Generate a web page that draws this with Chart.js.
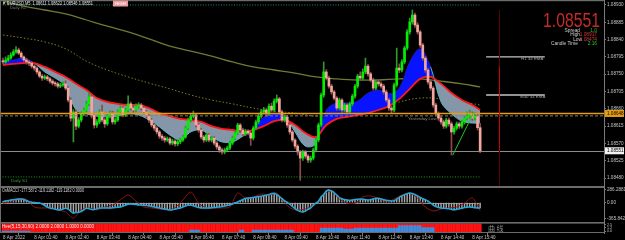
<!DOCTYPE html>
<html><head><meta charset="utf-8">
<script src="https://cdn.jsdelivr.net/npm/chart.js@4.4.1/dist/chart.umd.min.js"></script>
<style>html,body{margin:0;padding:0;background:#000;overflow:hidden}canvas{display:block}</style>
</head><body>
<canvas id="c" width="625" height="240"></canvas>
<script>
// ---------------- DATA ----------------
const symbolTitle = '\u25BC EURUSD,M5  1.08611 1.08622 1.08546 1.08551';
const closes = [1.08782,1.08787,1.08792,1.08800,1.08808,1.08813,1.08805,1.08795,1.08787,1.08782,1.08779,1.08771,
1.08766,1.08756,1.08745,1.08740,1.08743,1.08738,1.08732,1.08727,1.08725,1.08719,1.08722,1.08725,
1.08714,1.08683,1.08636,1.08652,1.08615,1.08631,1.08647,1.08657,1.08673,1.08691,1.08644,1.08618,
1.08626,1.08652,1.08631,1.08621,1.08641,1.08649,1.08626,1.08631,1.08652,1.08662,1.08644,1.08657,
1.08673,1.08662,1.08657,1.08667,1.08670,1.08662,1.08652,1.08641,1.08631,1.08618,1.08610,1.08600,
1.08589,1.08584,1.08579,1.08582,1.08571,1.08576,1.08569,1.08574,1.08579,1.08587,1.08610,1.08631,
1.08641,1.08644,1.08618,1.08605,1.08587,1.08579,1.08592,1.08579,1.08584,1.08571,1.08561,1.08553,
1.08548,1.08553,1.08558,1.08571,1.08584,1.08597,1.08618,1.08605,1.08595,1.08602,1.08597,1.08584,
1.08610,1.08626,1.08641,1.08652,1.08657,1.08647,1.08667,1.08657,1.08680,1.08686,1.08652,1.08631,
1.08639,1.08618,1.08600,1.08579,1.08563,1.08548,1.08532,1.08548,1.08537,1.08527,1.08532,1.08553,
1.08579,1.08618,1.08696,1.08756,1.08740,1.08719,1.08704,1.08688,1.08662,1.08683,1.08657,1.08670,
1.08652,1.08673,1.08693,1.08719,1.08745,1.08740,1.08756,1.08771,1.08751,1.08735,1.08714,1.08730,
1.08725,1.08719,1.08704,1.08683,1.08662,1.08657,1.08722,1.08766,1.08761,1.08782,1.08818,1.08860,
1.08886,1.08904,1.08878,1.08860,1.08826,1.08792,1.08761,1.08730,1.08714,1.08670,1.08647,1.08636,
1.08626,1.08615,1.08631,1.08621,1.08600,1.08610,1.08621,1.08615,1.08626,1.08636,1.08641,1.08647,
1.08636,1.08641,1.08611,1.08551];
const opens = [1.08785,1.08782,1.08787,1.08792,1.08800,1.08808,1.08813,1.08805,1.08795,1.08787,1.08782,1.08779,
1.08771,1.08766,1.08756,1.08745,1.08740,1.08743,1.08738,1.08732,1.08727,1.08725,1.08719,1.08722,
1.08725,1.08714,1.08683,1.08636,1.08652,1.08615,1.08631,1.08647,1.08657,1.08673,1.08691,1.08644,
1.08618,1.08626,1.08652,1.08631,1.08621,1.08641,1.08649,1.08626,1.08631,1.08652,1.08662,1.08644,
1.08657,1.08673,1.08662,1.08657,1.08667,1.08670,1.08662,1.08652,1.08641,1.08631,1.08618,1.08610,
1.08600,1.08589,1.08584,1.08579,1.08582,1.08571,1.08576,1.08569,1.08574,1.08579,1.08587,1.08610,
1.08631,1.08641,1.08644,1.08618,1.08605,1.08587,1.08579,1.08592,1.08579,1.08584,1.08571,1.08561,
1.08553,1.08548,1.08553,1.08558,1.08571,1.08584,1.08597,1.08618,1.08605,1.08595,1.08602,1.08597,
1.08584,1.08610,1.08626,1.08641,1.08652,1.08657,1.08647,1.08667,1.08657,1.08680,1.08686,1.08652,
1.08631,1.08639,1.08618,1.08600,1.08579,1.08563,1.08548,1.08532,1.08548,1.08537,1.08527,1.08532,
1.08553,1.08579,1.08618,1.08696,1.08756,1.08740,1.08719,1.08704,1.08688,1.08662,1.08683,1.08657,
1.08670,1.08652,1.08673,1.08693,1.08719,1.08745,1.08740,1.08756,1.08771,1.08751,1.08735,1.08714,
1.08730,1.08725,1.08719,1.08704,1.08683,1.08662,1.08657,1.08722,1.08766,1.08761,1.08782,1.08818,
1.08860,1.08886,1.08904,1.08878,1.08860,1.08826,1.08792,1.08761,1.08730,1.08714,1.08670,1.08647,
1.08636,1.08626,1.08615,1.08631,1.08621,1.08600,1.08610,1.08621,1.08615,1.08626,1.08636,1.08641,
1.08647,1.08636,1.08641,1.08611];
const highs = [1.08792,1.08795,1.08799,1.08806,1.08814,1.08822,1.08818,1.08809,1.08798,1.08792,1.08786,1.08783,
1.08775,1.08769,1.08759,1.08750,1.08748,1.08747,1.08742,1.08736,1.08731,1.08729,1.08727,1.08730,
1.08733,1.08718,1.08688,1.08658,1.08657,1.08637,1.08652,1.08662,1.08680,1.08701,1.08696,1.08649,
1.08632,1.08658,1.08670,1.08636,1.08646,1.08655,1.08654,1.08637,1.08657,1.08668,1.08666,1.08662,
1.08694,1.08678,1.08668,1.08673,1.08676,1.08674,1.08666,1.08656,1.08645,1.08635,1.08622,1.08614,
1.08604,1.08594,1.08589,1.08587,1.08586,1.08581,1.08580,1.08579,1.08584,1.08592,1.08615,1.08636,
1.08647,1.08654,1.08648,1.08622,1.08609,1.08591,1.08597,1.08596,1.08589,1.08588,1.08575,1.08565,
1.08558,1.08558,1.08563,1.08576,1.08589,1.08602,1.08623,1.08622,1.08610,1.08607,1.08606,1.08601,
1.08615,1.08631,1.08646,1.08658,1.08664,1.08662,1.08673,1.08675,1.08686,1.08696,1.08690,1.08657,
1.08645,1.08643,1.08622,1.08604,1.08583,1.08567,1.08552,1.08553,1.08552,1.08541,1.08537,1.08558,
1.08584,1.08623,1.08701,1.08782,1.08762,1.08745,1.08724,1.08708,1.08692,1.08688,1.08687,1.08675,
1.08674,1.08678,1.08698,1.08724,1.08750,1.08756,1.08764,1.08792,1.08776,1.08755,1.08740,1.08735,
1.08735,1.08730,1.08724,1.08709,1.08688,1.08667,1.08727,1.08818,1.08777,1.08788,1.08823,1.08866,
1.08896,1.08917,1.08909,1.08884,1.08864,1.08830,1.08797,1.08766,1.08735,1.08718,1.08675,1.08652,
1.08641,1.08631,1.08636,1.08636,1.08626,1.08615,1.08626,1.08626,1.08631,1.08641,1.08652,1.08657,
1.08652,1.08650,1.08646,1.08622];
const lows = [1.08776,1.08778,1.08783,1.08789,1.08797,1.08804,1.08801,1.08791,1.08783,1.08776,1.08772,1.08766,
1.08760,1.08750,1.08741,1.08734,1.08736,1.08733,1.08727,1.08722,1.08719,1.08714,1.08715,1.08718,
1.08709,1.08678,1.08628,1.08574,1.08606,1.08610,1.08626,1.08642,1.08652,1.08668,1.08636,1.08610,
1.08612,1.08621,1.08626,1.08612,1.08617,1.08636,1.08620,1.08620,1.08627,1.08648,1.08639,1.08640,
1.08652,1.08657,1.08651,1.08652,1.08662,1.08657,1.08647,1.08636,1.08625,1.08613,1.08604,1.08594,
1.08583,1.08578,1.08573,1.08575,1.08566,1.08566,1.08563,1.08564,1.08569,1.08575,1.08583,1.08606,
1.08626,1.08636,1.08613,1.08599,1.08582,1.08573,1.08575,1.08574,1.08574,1.08566,1.08555,1.08547,
1.08542,1.08543,1.08548,1.08554,1.08567,1.08580,1.08593,1.08600,1.08590,1.08590,1.08592,1.08565,
1.08579,1.08605,1.08621,1.08636,1.08646,1.08641,1.08642,1.08652,1.08652,1.08675,1.08646,1.08626,
1.08626,1.08612,1.08594,1.08574,1.08557,1.08540,1.08474,1.08526,1.08531,1.08520,1.08521,1.08527,
1.08548,1.08574,1.08613,1.08690,1.08735,1.08714,1.08698,1.08683,1.08656,1.08657,1.08651,1.08652,
1.08646,1.08647,1.08668,1.08688,1.08714,1.08734,1.08735,1.08751,1.08745,1.08730,1.08709,1.08709,
1.08719,1.08714,1.08698,1.08678,1.08656,1.08650,1.08652,1.08717,1.08754,1.08756,1.08777,1.08813,
1.08854,1.08880,1.08872,1.08854,1.08820,1.08786,1.08755,1.08724,1.08708,1.08664,1.08641,1.08630,
1.08620,1.08609,1.08610,1.08615,1.08540,1.08594,1.08605,1.08609,1.08610,1.08620,1.08631,1.08636,
1.08630,1.08631,1.08605,1.08546];

// moving averages (sampled bars)
const emaIdx = [0,4,8,12,16,20,24,28,32,36,40,44,48,52,56,60,64,68,72,76,80,84,88,92,96,100,104,108,112,116,120,124,128,132,136,140,144,148,152,156,160,164,168,172,176,180,183];
const emaSlow = [1.08774,1.08777,1.08779,1.08779,1.08769,1.08756,1.08743,1.08725,1.08709,1.08688,
1.08678,1.08673,1.08670,1.08670,1.08662,1.08649,1.08641,1.08634,1.08631,1.08626,
1.08615,1.08608,1.08605,1.08600,1.08605,1.08615,1.08628,1.08631,1.08618,1.08597,
1.08587,1.08618,1.08634,1.08639,1.08644,1.08649,1.08657,1.08667,1.08686,1.08712,
1.08738,1.08743,1.08725,1.08701,1.08683,1.08670,1.08657];
const emaFast = [1.08784,1.08787,1.08792,1.08779,1.08756,1.08740,1.08719,1.08657,1.08647,1.08641,
1.08639,1.08641,1.08647,1.08644,1.08631,1.08613,1.08592,1.08579,1.08600,1.08605,
1.08587,1.08574,1.08574,1.08589,1.08608,1.08639,1.08649,1.08641,1.08600,1.08563,
1.08569,1.08657,1.08675,1.08675,1.08680,1.08701,1.08709,1.08699,1.08714,1.08782,
1.08816,1.08769,1.08678,1.08647,1.08628,1.08623,1.08623];
const longIdx = [0,8,16,24,32,40,48,56,64,72,80,88,96,104,112,120,128,136,144,152,160,168,176,183];
const maLong = [1.08940,1.08927,1.08917,1.08907,1.08891,1.08875,1.08860,1.08842,1.08823,1.08810,1.08797,1.08782,
1.08769,1.08761,1.08753,1.08743,1.08738,1.08735,1.08735,1.08738,1.08738,1.08732,1.08725,1.08717];
const maLongDotted = [1.08852,1.08844,1.08834,1.08816,1.08784,1.08761,1.08743,1.08727,1.08712,1.08696,1.08683,1.08673,
1.08662,1.08654,1.08649,1.08641,1.08644,1.08652,1.08662,1.08678,1.08688,1.08686,1.08678,1.08670];

// CCI panel
const cciMain = [27,38,50,61,68,77,83,83,72,50,22,9,
2,-2,-7,-29,-63,-97,-119,-133,-148,-160,-164,-142,
-124,-142,-198,-232,-223,-214,-198,-160,-124,-137,-155,-155,
-135,-122,-118,-120,-117,-121,-115,-108,-101,-97,-79,-56,
-36,-29,-36,-43,-50,-52,-59,-65,-74,-83,-95,-108,
-119,-128,-142,-153,-164,-160,-146,-131,-119,-97,-74,-59,
-52,-70,-92,-110,-118,-121,-117,-120,-115,-108,-101,-97,
-88,-74,-63,-52,-29,-2,16,43,72,97,106,110,
119,128,137,146,155,169,185,205,211,182,140,92,
43,9,-34,-86,-133,-171,-200,-209,-187,-153,-115,-63,
-11,32,128,185,263,286,263,230,173,117,88,70,
61,56,61,72,77,83,79,70,61,70,85,99,
99,83,65,54,50,38,47,79,122,151,178,205,
218,207,185,151,122,88,70,38,-7,-52,-88,-110,
-120,-124,-128,-137,-151,-160,-151,-137,-124,-110,-101,-97,
-104,-113,-117,-119.1182];
const cciSignalIdx = [0,3,6,9,12,15,18,21,24,27,30,33,36,39,42,45,48,51,54,57,60,63,66,69,72,75,78,81,84,87,90,93,96,99,102,105,108,111,114,117,120,123,126,129,132,135,138,141,144,147,150,153,156,159,162,165,168,171,174,177,180,183];
const cciSignal = [-7,16,94,72,-97,-119,-121,-164,-209,-344,-164,-119,-164,-97,-52,61,173,38,-97,-119,-142,-164,-118,61,241,-7,-119,-122,-117,-97,218,106,128,196,173,218,-7,-142,-164,-119,-7,196,263,83,-7,-9,128,151,94,16,83,173,218,106,-97,-187,-142,-119,-97,-7,106,-177.5872];
const cciTickValues = [286.2881, 0, -365.8425];
const cciTickLabels = ['286.2881', '0.00', '-365.8425'];
const cciTitle = 'OsMACCI -177.5872 -119.1182 -119.1182 0.0000';

// heat panel
const heatBlue = [1,1,1,1,1,1,1,1,1,1,1,
0,0,0,0,0,0,0,0,0,0,0,0,0,0,0,0,0,0,0,0,0,0,0,0,0,0,0,0,0,0,0,0,0,0,0,0,0,0,0,0,0,0,0,0,0,0,0,0,0,0,0,0,0,0,0,0,0,0,0,0,0,
2,2,2,2,
0,0,0,0,0,0,0,0,0,0,0,0,0,0,0,
2,2,
0,0,0,
2,2,2,2,2,2,2,2,2,2,2,2,2,2,2,2,
0,0,0,0,0,0,0,0,0,0,
4,4,4,4,4,4,4,4,4,
3,3,3,3,
4,4,4,4,4,4,4,4,4,4,4,4,4,4,4,4,4,
6.5,6.5,6.5,6.5,6.5,6.5,6.5,6.5,6.5,
4.5,4.5,4.5,4.5,4.5,
0,0,0,0,0,0,0,0,0,0,0,0,0,0,0,0,0,0];
const heatTickValues = [8.4, 5.2, 2.0];
const heatTickLabels = ['2.5', '1.2', '0.0'];
const heatTitle = 'Hee(5,15,30,60) 2.0000 2.0000 1.0000 0.0000';

// axes
const priceTicks = [1.08480,1.08525,1.08570,1.08615,1.08660,1.08705,1.08750,1.08795,1.08840,1.08885,1.08930];
const timeTickIdx = [0,12,24,36,48,60,72,84,96,108,120,132,144,156,168,180];
const timeLabels = ['8 Apr 2022','8 Apr 01:40','8 Apr 02:40','8 Apr 03:40','8 Apr 04:40','8 Apr 05:40','8 Apr 06:40','8 Apr 07:40','8 Apr 08:40','8 Apr 09:40','8 Apr 10:40','8 Apr 11:40','8 Apr 12:40','8 Apr 13:40','8 Apr 14:40','8 Apr 15:40'];

// levels / objects
const levelOrange = 1.08648;
const levelYesterday = 1.08643;
const levelBid = 1.08551;
const dailyR1 = 1.08930;
const dailyS1 = 1.08483;
const emaH1 = 1.08795;
const emaM30 = 1.08696;
const emaLevelFrom = 185.3, emaLevelTo = 207.8;
const vLineIdx = 190.2;
const trendFrom = [172.5, 1.08540], trendTo = [180.5, 1.08650];
const bigPrice = '1.08551';
const infoRows = [['Spread','1.0'],['High','1.08917'],['Low','1.08474'],['Candle Time','2:16']];

// ---------------- CHART ----------------
const FONT = '"Liberation Sans", Arial, "DejaVu Sans", sans-serif';
Chart.defaults.font.family = FONT;
const N = closes.length;
const bull = i => closes[i] >= opens[i];

function txt(ctx, s, x, y, o = {}) {
  ctx.save();
  ctx.font = `${o.weight || 'normal'} ${o.size || 4.6}px ${o.family || FONT}`;
  ctx.fillStyle = o.color || '#ccc';
  ctx.textAlign = o.align || 'left';
  ctx.textBaseline = o.baseline || 'middle';
  if (o.width) {
    const w = ctx.measureText(s).width;
    ctx.translate(x, y); ctx.scale(o.width / w, 1); ctx.fillText(s, 0, 0);
  } else ctx.fillText(s, x, y);
  ctx.restore();
}
function hline(ctx, x1, x2, y, color, w, dash) {
  ctx.save(); ctx.strokeStyle = color; ctx.lineWidth = w || 1; ctx.setLineDash(dash || []);
  ctx.beginPath(); ctx.moveTo(x1, y); ctx.lineTo(x2, y); ctx.stroke(); ctx.restore();
}
function seg(ctx, x1, y1, x2, y2, color, w) {
  ctx.save(); ctx.strokeStyle = color; ctx.lineWidth = w || 1;
  ctx.beginPath(); ctx.moveTo(x1, y1); ctx.lineTo(x2, y2); ctx.stroke(); ctx.restore();
}

const overlay = {
  id: 'overlay',
  beforeDatasetsDraw(chart) {
    const {ctx, scales: {x, y2, y3}} = chart;
    const xl = x.getPixelForValue(-0.5), xr = x.getPixelForValue(N - 0.5);
    ctx.save();
    ctx.fillStyle = '#9c0000';
    ctx.fillRect(xl, y3.getPixelForValue(9.2), xr - xl, y3.getPixelForValue(0.9) - y3.getPixelForValue(9.2));
    ctx.restore();
    hline(ctx, 0, x.getPixelForValue(N - 1.2), Math.round(y2.getPixelForValue(0)) + 0.5, '#8a8a8a', 1);
  },
  afterDatasetsDraw(chart) {
    const {ctx, scales: {x, y}} = chart;
    const X = v => x.getPixelForValue(v), Y = v => y.getPixelForValue(v);
    const endX = X(N - 1.2);
    hline(ctx, 0, endX, Y(dailyR1), '#2f8080', 1, [1, 1.6]);
    hline(ctx, 0, endX, Y(dailyS1), '#1f9a1f', 1, [1, 1.6]);
    hline(ctx, 0, 604, Y(levelYesterday) + 0.5, '#8f7f5f', 1, [3, 2]);
    hline(ctx, 0, 604, Y(levelOrange), '#e89c10', 1.6);
    hline(ctx, 0, 604, Math.round(Y(levelBid)) + 0.5, '#8c8c8c', 1);
    hline(ctx, X(emaLevelFrom), X(emaLevelTo), Y(emaH1), '#c4c4c4', 1.4);
    hline(ctx, X(emaLevelFrom), X(emaLevelTo), Y(emaM30), '#c4c4c4', 1.4);
    const vx = Math.round(X(vLineIdx)) + 0.5;
    seg(ctx, vx, 10, vx, y.bottom, '#5c0000', 1);
    seg(ctx, vx, Y(1.08770), vx, Y(levelBid), '#d40000', 1);
    seg(ctx, X(trendFrom[0]), Y(trendFrom[1]), X(trendTo[0]), Y(trendTo[1]), '#22c422', 1);
  },
  afterDraw(chart) {
    const {ctx, scales: {x, y, y2, y3}} = chart;
    const Y = v => y.getPixelForValue(v);
    ctx.save();
    // frame & separators
    ctx.fillStyle = '#6c6c6c';
    ctx.fillRect(0, 0, 604, 1.2);
    ctx.fillRect(0, 0, 1, y3.bottom);
    ctx.fillRect(0, y.bottom - 1, 604, 2);
    ctx.fillRect(0, y2.bottom - 1, 604, 1.6);
    ctx.fillRect(0, y3.bottom - 1, 604, 1);
    ctx.restore();
    // title block
    txt(ctx, symbolTitle, 2, 4, {size: 5, color: '#e4e4e4', width: 91});
    txt(ctx, 'Daily R1', 10, 8, {size: 4.3, color: '#7c7c7c'});
    ctx.save(); ctx.fillStyle = '#ec9c9c'; ctx.fillRect(113, 0.5, 15, 6); ctx.restore();
    txt(ctx, 'HIGH', 120.5, 3.6, {size: 4.2, color: '#ffffff', align: 'center'});
    // big price & info
    txt(ctx, bigPrice, 543, 27, {size: 20, color: '#c42a2a', width: 57, baseline: 'alphabetic'});
    const rowY = [31, 35, 39.5, 44];
    const labRight = [580, 580, 582, 578];
    const valCol = ['#1ad21a', '#d23a3a', '#d23a3a', '#1ad21a'];
    infoRows.forEach((r, k) => {
      txt(ctx, r[0], labRight[k], rowY[k], {size: 4.8, color: '#d0d0d0', align: 'right'});
      txt(ctx, r[1], 597, rowY[k], {size: 4.8, color: valCol[k], align: 'right'});
    });
    txt(ctx, 'H1 34 EMA', 521, Y(emaH1) + 1.5, {size: 4.4, color: '#a0a0a0'});
    txt(ctx, 'M30 34 EMA', 520, Y(emaM30) + 2, {size: 4.4, color: '#a0a0a0'});
    txt(ctx, 'Yesterday Low', 408, 119, {size: 4.4, color: '#8c8c8c'});
    txt(ctx, 'Daily S1', 11, Y(dailyS1) + 3.5, {size: 4.4, color: '#2ea82e'});
    // sub-panel titles
    txt(ctx, cciTitle, 2, y2.top + 4, {size: 4.5, color: '#d8d8d8', width: 82});
    txt(ctx, heatTitle, 2, y3.top + 4.2, {size: 4.5, color: '#ffe4e4', width: 92});
    txt(ctx, '曲 线', 488, y3.top + 5, {size: 7, color: '#8a8a8a', family: '"Noto Sans CJK SC", sans-serif'});
    // price boxes on the axis
    ctx.save();
    ctx.fillStyle = '#e89c10'; ctx.fillRect(605, Y(levelOrange) - 3.5, 19, 7);
    ctx.fillStyle = '#f2f2f2'; ctx.fillRect(605, Y(levelBid) - 3.5, 19, 7);
    ctx.restore();
    txt(ctx, levelOrange.toFixed(5), 607, Y(levelOrange), {size: 4.6, color: '#000'});
    txt(ctx, levelBid.toFixed(5), 607, Y(levelBid), {size: 4.6, color: '#000'});
  }
};

function yAxis(extra) {
  return Object.assign({
    position: 'right', stack: 'panels',
    grid: {display: true, drawOnChartArea: false, tickLength: 2, color: '#7a7a7a'},
    border: {display: true, color: '#7a7a7a'},
    ticks: {color: '#c4c4c4', font: {size: 4.6}, padding: 1, autoSkip: false},
    afterFit: s => { s.width = 21; s.paddingTop = 0; s.paddingBottom = 0; }
  }, extra);
}

new Chart(document.getElementById('c'), {
  type: 'bar',
  data: {
    datasets: [
      { type: 'line', data: longIdx.map((i, k) => ({x: i, y: maLong[k]})), yAxisID: 'y',
        borderColor: '#6f7a33', borderWidth: 1.3, pointRadius: 0, tension: 0.4, order: 30 },
      { type: 'line', data: longIdx.map((i, k) => ({x: i, y: maLongDotted[k]})), yAxisID: 'y',
        borderColor: '#7c7c22', borderWidth: 1, borderDash: [1.5, 2], pointRadius: 0, tension: 0.4, order: 29 },
      { type: 'line', data: emaIdx.map((i, k) => ({x: i, y: emaSlow[k]})), yAxisID: 'y',
        borderColor: '#ff1a1a', borderWidth: 1.8, pointRadius: 0, tension: 0.35, order: 20 },
      { type: 'line', data: emaIdx.map((i, k) => ({x: i, y: emaFast[k]})), yAxisID: 'y',
        borderWidth: 1, pointRadius: 0, tension: 0.35, order: 21,
        fill: {target: 2, above: '#0814ff', below: '#8596a8'},
        segment: { borderColor: c => (emaFast[c.p0DataIndex] + emaFast[c.p1DataIndex]) >= (emaSlow[c.p0DataIndex] + emaSlow[c.p1DataIndex]) ? '#1c1ca0' : '#4fb6c4' } },
      { type: 'bar', data: closes.map((c, i) => ({x: i, y: [lows[i], highs[i]]})), yAxisID: 'y',
        barThickness: 1, grouped: false, order: 6,
        backgroundColor: c => bull(c.dataIndex) ? '#2c9a2c' : '#8e4a46' },
      { type: 'bar', data: closes.map((c, i) => ({x: i, y: [opens[i], c]})), yAxisID: 'y',
        barThickness: 2, grouped: false, minBarLength: 1, order: 5,
        backgroundColor: c => bull(c.dataIndex) ? '#00f000' : '#f3a69e' },
      // CCI
      { type: 'bar', data: cciMain.map((v, i) => ({x: i, y: [0, v]})), yAxisID: 'y2',
        barThickness: 0.8, grouped: false, order: 12, backgroundColor: '#a8a8a8' },
      { type: 'line', data: cciSignalIdx.map((i, k) => ({x: i, y: cciSignal[k]})), yAxisID: 'y2',
        borderColor: '#8e1414', borderWidth: 1, pointRadius: 0, tension: 0.3, order: 11 },
      { type: 'line', data: cciMain.map((v, i) => ({x: i, y: v})), yAxisID: 'y2',
        borderColor: '#22a8dc', borderWidth: 1.5, pointRadius: 0, tension: 0.3, order: 10 },
      // heat
      { type: 'bar', data: closes.map((c, i) => ({x: i, y: [0.9, 9.2]})), yAxisID: 'y3',
        barThickness: 2, grouped: false, order: 14, backgroundColor: '#ff1414' },
      { type: 'bar', data: heatBlue.map((h, i) => ({x: i, y: h > 0 ? [0.9, 0.9 + h] : null})), yAxisID: 'y3',
        barThickness: 2, grouped: false, order: 13, backgroundColor: '#3a8ee0' }
    ]
  },
  options: {
    responsive: false, animation: false, devicePixelRatio: 1,
    layout: {padding: 0},
    plugins: {legend: {display: false}, tooltip: {enabled: false}},
    scales: {
      x: {
        type: 'linear', position: 'bottom', min: -1.15, max: 230.5, offset: false,
        grid: {display: true, drawOnChartArea: false, tickLength: 2, color: '#7a7a7a'},
        border: {display: false},
        afterBuildTicks: s => { s.ticks = timeTickIdx.map(v => ({value: v})); },
        afterFit: s => { s.height = 7; s.paddingLeft = 0; s.paddingRight = 0; },
        ticks: {autoSkip: false, maxRotation: 0, minRotation: 0, align: 'start', padding: 0,
          color: '#c8c8c8', font: {size: 4.5}, callback: (v, i) => timeLabels[i]}
      },
      y: yAxis({ stackWeight: 187, min: 1.084568, max: 1.08943,
        afterBuildTicks: s => { s.ticks = priceTicks.map(v => ({value: v})); },
        ticks: {color: '#c4c4c4', font: {size: 4.6}, padding: 1, autoSkip: false, callback: v => v.toFixed(5)} }),
      y2: yAxis({ stackWeight: 36, min: -456.5, max: 353.1,
        afterBuildTicks: s => { s.ticks = cciTickValues.map(v => ({value: v})); },
        ticks: {color: '#c4c4c4', font: {size: 4.6}, padding: 1, autoSkip: false, callback: (v, i) => cciTickLabels[i]} }),
      y3: yAxis({ stackWeight: 10, min: 0, max: 10,
        afterBuildTicks: s => { s.ticks = heatTickValues.map(v => ({value: v})); },
        ticks: {color: '#c4c4c4', font: {size: 3.6}, padding: 1, autoSkip: false, callback: (v, i) => heatTickLabels[i]} })
    }
  },
  plugins: [overlay]
});
</script>
</body></html>
